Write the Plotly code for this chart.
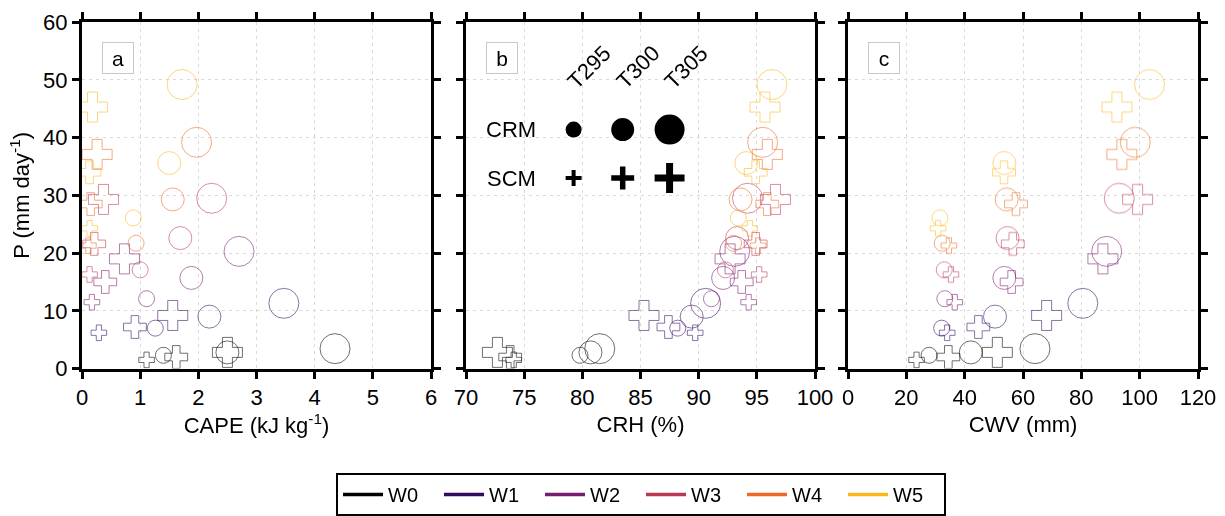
import plotly.graph_objects as go

# ---------------- data ----------------
W_NAMES = ["W0", "W1", "W2", "W3", "W4", "W5"]
W_COLORS = ["#000004", "#320A5E", "#781C6D", "#BC3754", "#ED6925", "#FBB61A"]
T_NAMES = ["T295", "T300", "T305"]

# precipitation (mm/day), rows = W0..W5, cols = T295, T300, T305
P_CRM = [[2.3, 2.8, 3.45], [7.0, 9.0, 11.3], [12.1, 15.7, 20.3],
         [17.1, 22.6, 29.5], [21.7, 29.3, 39.2], [26.1, 35.6, 49.2]]
P_SCM = [[1.5, 2.0, 2.8], [6.2, 7.2, 9.2], [11.5, 15.0, 19.0],
         [16.3, 21.6, 29.3], [21.3, 28.5, 37.1], [24.3, 34.0, 45.3]]

# CAPE (kJ/kg)
CAPE_CRM = [[1.40, 2.50, 4.35], [1.26, 2.19, 3.47], [1.11, 1.88, 2.70],
            [1.00, 1.69, 2.23], [0.93, 1.56, 1.97], [0.88, 1.50, 1.72]]
CAPE_SCM = [[1.11, 1.62, 2.50], [0.29, 0.91, 1.56], [0.17, 0.40, 0.73],
            [0.13, 0.21, 0.37], [0.11, 0.15, 0.26], [0.13, 0.13, 0.18]]

# CRH (%)
CRH_CRM = [[79.8, 80.7, 81.5], [88.2, 89.4, 90.6], [91.1, 92.1, 93.1],
           [92.3, 93.3, 94.2], [93.0, 93.6, 95.5], [93.4, 94.1, 96.3]]
CRH_SCM = [[74.1, 73.8, 72.7], [89.7, 87.4, 85.3], [94.3, 93.7, 92.7],
           [95.2, 94.9, 96.6], [95.1, 95.9, 95.9], [94.4, 94.9, 95.7]]

# CWV (mm)
CWV_CRM = [[27.8, 42.1, 64.1], [32.1, 50.4, 80.5], [33.2, 53.6, 88.7],
           [33.0, 54.7, 93.0], [32.3, 54.4, 98.5], [31.5, 53.6, 103.4]]
CWV_SCM = [[23.5, 34.4, 51.2], [34.0, 44.7, 68.1], [36.6, 56.1, 87.4],
           [35.3, 56.5, 99.3], [34.6, 57.6, 93.9], [30.9, 53.5, 92.2]]

PANELS = [
    ("a", "CAPE (kJ kg<sup>-1</sup>)", CAPE_CRM, CAPE_SCM, [0, 6], 1),
    ("b", "CRH (%)", CRH_CRM, CRH_SCM, [70, 100], 5),
    ("c", "CWV (mm)", CWV_CRM, CWV_SCM, [0, 120], 20),
]

# size key inside panel b (data coordinates of panel b)
KEY_X = [79.25, 83.47, 87.5]
KEY_Y_CRM = 41.4
KEY_Y_SCM = 33.0
KEY_LABEL_X = [80.55, 84.75, 88.9]
KEY_LABEL_Y = 52.2

# ---------------- styling ----------------
CIRCLE_SIZES = [16, 23, 30]
CROSS_SIZES = [13, 19, 25]
KEY_CROSS_SIZES = [11.4, 16.4, 21.4]
KEY_CROSS_WIDTHS = [4, 5.5, 7]
FONT = "Liberation Sans, Arial, sans-serif"
W, H = 1225, 516
X_DOMAINS = [[82 / W, 431 / W], [466 / W, 815 / W], [848 / W, 1198 / W]]
Y_DOMAIN = [1 - 370 / H, 1 - 22.3 / H]

fig = go.Figure()

for pi, (lab, title, crm, scm, rng, dt) in enumerate(PANELS):
    xa = "x" if pi == 0 else f"x{pi + 1}"
    ya = "y" if pi == 0 else f"y{pi + 1}"
    for wi in range(6):
        fig.add_trace(go.Scatter(
            x=crm[wi], y=P_CRM[wi], mode="markers", xaxis=xa, yaxis=ya,
            showlegend=False, opacity=0.8,
            marker=dict(symbol="circle-open", size=CIRCLE_SIZES,
                        color=W_COLORS[wi], line=dict(width=1, color=W_COLORS[wi])),
        ))
        fig.add_trace(go.Scatter(
            x=scm[wi], y=P_SCM[wi], mode="markers", xaxis=xa, yaxis=ya,
            showlegend=False, opacity=0.8,
            marker=dict(symbol="cross-open", size=CROSS_SIZES,
                        color=W_COLORS[wi], line=dict(width=1, color=W_COLORS[wi])),
        ))

# key markers in panel b
fig.add_trace(go.Scatter(
    x=KEY_X, y=[KEY_Y_CRM] * 3, mode="markers", xaxis="x2", yaxis="y2",
    showlegend=False, opacity=1,
    marker=dict(symbol="circle", size=CIRCLE_SIZES, color="#000000", opacity=1,
                line=dict(width=0, color="#000000")),
))
fig.add_trace(go.Scatter(
    x=KEY_X, y=[KEY_Y_SCM] * 3, mode="markers", xaxis="x2", yaxis="y2",
    showlegend=False, opacity=1,
    marker=dict(symbol="cross-thin-open", size=KEY_CROSS_SIZES, color="#000000",
                opacity=1, line=dict(width=KEY_CROSS_WIDTHS, color="#000000")),
))

# legend entries
for wi in range(6):
    fig.add_trace(go.Scatter(
        x=[None], y=[None], mode="lines", name=W_NAMES[wi],
        line=dict(color=W_COLORS[wi], width=3.5), showlegend=True,
    ))

annotations = []
for pi, (lab, title, crm, scm, rng, dt) in enumerate(PANELS):
    xa = "x" if pi == 0 else f"x{pi + 1}"
    ya = "y" if pi == 0 else f"y{pi + 1}"
    annotations.append(dict(
        text=lab, xref=f"{xa} domain", yref=f"{ya} domain", x=0.104, y=0.897,
        xanchor="center", yanchor="middle",
        showarrow=False, font=dict(size=21, color="black", family=FONT),
        bordercolor="#c8c8c8", borderwidth=1, borderpad=3, bgcolor="white",
        width=24, height=24,
    ))
for i, t in enumerate(T_NAMES):
    annotations.append(dict(
        text=t, xref="x2", yref="y2", x=KEY_LABEL_X[i], y=KEY_LABEL_Y,
        xanchor="center", yanchor="middle",
        showarrow=False, textangle=-45, font=dict(size=22, color="black", family=FONT),
    ))
annotations.append(dict(text="CRM", xref="x2", yref="y2", x=73.9, y=KEY_Y_CRM,
                        xanchor="center", yanchor="middle",
                        showarrow=False, font=dict(size=22, color="black", family=FONT)))
annotations.append(dict(text="SCM", xref="x2", yref="y2", x=73.9, y=KEY_Y_SCM,
                        xanchor="center", yanchor="middle",
                        showarrow=False, font=dict(size=22, color="black", family=FONT)))

axis_common = dict(
    showline=True, linewidth=3, linecolor="black", mirror="ticks",
    ticks="outside", ticklen=7, tickwidth=3, tickcolor="black",
    showgrid=True, gridcolor="#dadada", griddash="3px,4px", gridwidth=1,
    zeroline=False, automargin=False,
    tickfont=dict(size=22, color="black", family=FONT),
)

layout = dict(
    width=W, height=H, margin=dict(l=0, r=0, t=0, b=0),
    paper_bgcolor="white", plot_bgcolor="white",
    font=dict(family=FONT, size=20, color="black"),
    annotations=annotations,
    legend=dict(orientation="h", x=641 / W, xanchor="center", y=1 - 475 / H,
                yanchor="top", bordercolor="black", borderwidth=2,
                font=dict(size=20, family=FONT, color="black"),
                entrywidth=46, entrywidthmode="pixels", itemwidth=40),
)
for pi, (lab, title, crm, scm, rng, dt) in enumerate(PANELS):
    suffix = "" if pi == 0 else str(pi + 1)
    layout[f"xaxis{suffix}"] = dict(
        axis_common, domain=X_DOMAINS[pi], range=rng, dtick=dt,
        anchor=f"y{suffix}",
        title=dict(text=title, standoff=8, font=dict(size=22, family=FONT, color="black")),
    )
    ydict = dict(
        axis_common, domain=Y_DOMAIN, range=[0, 60], dtick=10,
        anchor=f"x{suffix}", showticklabels=(pi == 0),
    )
    if pi == 0:
        ydict["title"] = dict(text="P (mm day<sup>-1</sup>)", standoff=8,
                              font=dict(size=22, family=FONT, color="black"))
    layout[f"yaxis{suffix}"] = ydict
fig.update_layout(**layout)

fig.write_html("out.html")
